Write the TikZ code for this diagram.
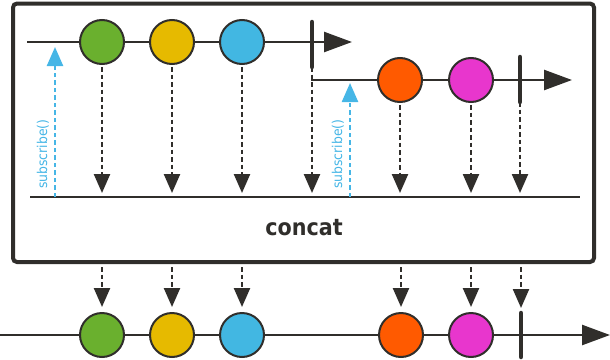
\documentclass[tikz,border=0pt]{standalone}
\usepackage{fontspec}
\setmainfont{DejaVu Sans}
\usetikzlibrary{arrows.meta}
\definecolor{ink}{RGB}{48,46,43}
\definecolor{cgreen}{RGB}{106,176,46}
\definecolor{cyellow}{RGB}{230,186,0}
\definecolor{cblue}{RGB}{66,183,226}
\definecolor{corange}{RGB}{255,90,0}
\definecolor{cmagenta}{RGB}{232,54,205}
\definecolor{subblue}{RGB}{70,182,230}
\begin{document}
\begin{tikzpicture}[x=1pt,y=-1pt,
  marble/.style={circle,draw=ink,line width=2pt,minimum size=44pt,inner sep=0pt},
  tl/.style={draw=ink,line width=2.5pt},
  bigtip/.style={-{Triangle[length=28pt,width=20pt]}},
  emit/.style={draw=ink,line width=2.4pt,dash pattern=on 4.5pt off 3pt,-{Triangle[length=19pt,width=16pt]}},
  subarrow/.style={draw=subblue,line width=2.4pt,dash pattern=on 4.5pt off 3pt,-{Triangle[length=19pt,width=16pt]}},
  endbar/.style={draw=ink,line width=4.5pt,line cap=round},
  sublabel/.style={text=subblue,rotate=90,anchor=west,inner sep=0pt}]
\useasboundingbox (0,0) rectangle (610,359);

% operator box
\node[draw=ink,line width=4pt,rounded corners=4pt,minimum width=581pt,minimum height=258.5pt,inner sep=0pt] (box) at (303.5,132.75) {};
\node[text=ink] (op) at (304,228) {\scalebox{0.9}[1]{\fontsize{23}{27}\selectfont\bfseries concat}};

% inner merge line
\coordinate (iL) at (30,197);
\coordinate (iR) at (580,197);
\draw[ink,line width=2.2pt] (iL) -- (iR);

% first source timeline
\coordinate (a0) at (27,42);
\coordinate (a1) at (352,42);
\draw[tl,bigtip] (a0) -- (a1);
\node[marble,fill=cgreen] (g1) at (102,42) {};
\node[marble,fill=cyellow] (g2) at (172,42) {};
\node[marble,fill=cblue] (g3) at (242,42) {};
\coordinate (e1t) at (312,22);
\coordinate (e1b) at (312,67);
\draw[endbar] (e1t) -- (e1b);

% second source timeline
\coordinate (b0) at (311,80);
\coordinate (b1) at (572,80);
\draw[tl,bigtip] (b0) -- (b1);
\node[marble,fill=corange] (g4) at (400,80) {};
\node[marble,fill=cmagenta] (g5) at (471,80) {};
\coordinate (e2t) at (520,57);
\coordinate (e2b) at (520,102);
\draw[endbar] (e2t) -- (e2b);

% subscribe arrows
\coordinate (s1b) at (55,197);
\coordinate (s1t) at (55,47);
\draw[subarrow] (s1b) -- (s1t);
\node[sublabel] (l1) at (43,189) {\scalebox{0.92}[1]{\fontsize{13.5}{15}\selectfont subscribe()}};
\coordinate (s2b) at (350,197);
\coordinate (s2t) at (350,83);
\draw[subarrow] (s2b) -- (s2t);
\node[sublabel] (l2) at (338,189) {\scalebox{0.92}[1]{\fontsize{13.5}{15}\selectfont subscribe()}};

% emissions into operator
\foreach \n in {g1,g2,g3,g4,g5}{
  \draw[emit,shorten <=2pt,shorten >=4pt] (\n.south) -- (\n |- iL);
}
\draw[emit,shorten >=4pt] (e1b) -- (e1b |- iL);
\draw[emit,shorten >=4pt] (e2b) -- (e2b |- iL);

% output timeline
\coordinate (o0) at (0,335);
\coordinate (oe) at (610,335);
\draw[tl,bigtip] (o0) -- (oe);
\node[marble,fill=cgreen] (h1) at (102,335) {};
\node[marble,fill=cyellow] (h2) at (172,335) {};
\node[marble,fill=cblue] (h3) at (242,335) {};
\node[marble,fill=corange] (h4) at (401,335) {};
\node[marble,fill=cmagenta] (h5) at (471,335) {};
\coordinate (e3t) at (521,313);
\coordinate (e3b) at (521,357);
\draw[endbar] (e3t) -- (e3b);

% emissions out of operator
\foreach \n in {h1,h2,h3,h4,h5}{
  \draw[emit,shorten <=3pt,shorten >=5pt] (\n |- box.south) -- (\n.north);
}
\draw[emit,shorten <=3pt,shorten >=5pt] (e3t |- box.south) -- (e3t);
\end{tikzpicture}
\end{document}
